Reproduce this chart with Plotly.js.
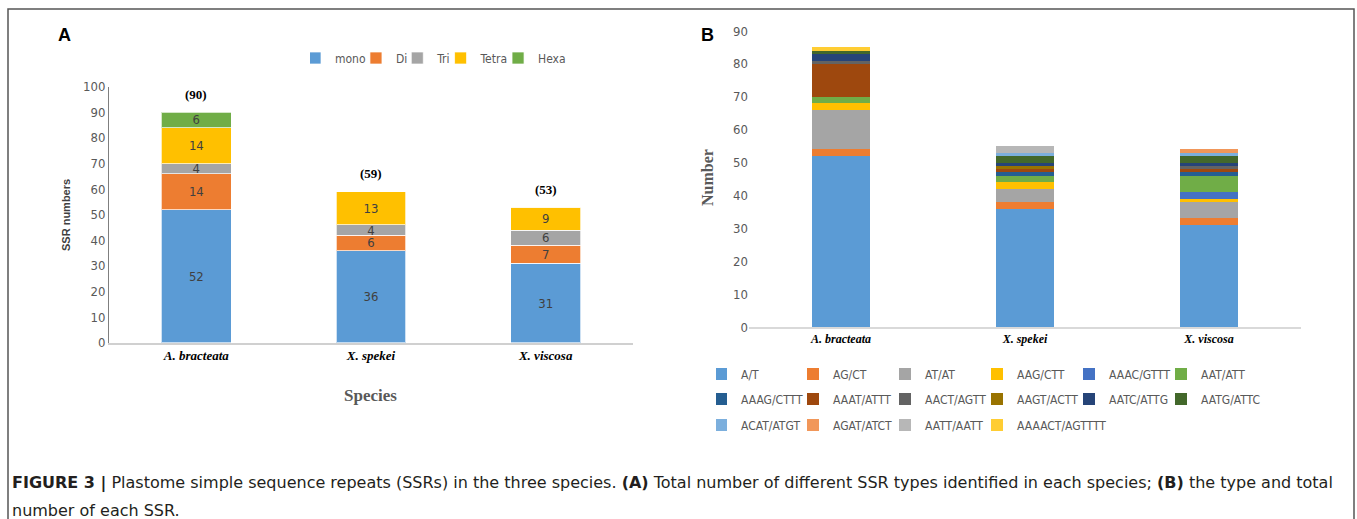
<!DOCTYPE html>
<html>
<head>
<meta charset="utf-8">
<script src="https://cdn.plot.ly/plotly-3.0.1.min.js"></script>
<style>html,body{margin:0;padding:0;background:#fff;}#chart{width:1357px;height:519px;}</style>
</head>
<body>
<div id="chart"></div>
<script>
// ---------- Panel A data ----------
const speciesA = ['A. bracteata', 'X. spekei', 'X. viscosa'];
const typeNamesA = ['mono', 'Di', 'Tri', 'Tetra', 'Hexa'];
const mono  = [52, 36, 31];
const di    = [14, 6, 7];
const tri   = [4, 4, 6];
const tetra = [14, 13, 9];
const hexa  = [6, 0, 0];
const totalsA = [90, 59, 53];
const colorsA = ['#5B9BD5', '#ED7D31', '#A5A5A5', '#FFC000', '#70AD47'];

// ---------- Panel B data ----------
const speciesB = ['A. bracteata', 'X. spekei', 'X. viscosa'];
const motifNames = ['A/T','AG/CT','AT/AT','AAG/CTT','AAAC/GTTT','AAT/ATT',
  'AAAG/CTTT','AAAT/ATTT','AACT/AGTT','AAGT/ACTT','AATC/ATTG','AATG/ATTC',
  'ACAT/ATGT','AGAT/ATCT','AATT/AATT','AAAACT/AGTTTT'];
const motifA_T      = [52, 36, 31];
const motifAG_CT    = [2, 2, 2];
const motifAT_AT    = [12, 4, 5];
const motifAAG_CTT  = [2, 2, 1];
const motifAAAC     = [0, 0, 2];
const motifAAT_ATT  = [2, 2, 5];
const motifAAAG     = [0, 1, 1];
const motifAAAT     = [10, 1, 1];
const motifAACT     = [1, 0, 1];
const motifAAGT     = [0, 1, 0];
const motifAATC     = [2, 1, 1];
const motifAATG     = [1, 2, 2];
const motifACAT     = [0, 1, 1];
const motifAGAT     = [0, 0, 1];
const motifAATT     = [0, 2, 0];
const motifAAAACT   = [1, 0, 0];
const colorsB = ['#5B9BD5','#ED7D31','#A5A5A5','#FFC000','#4472C4','#70AD47',
  '#255E91','#9E480E','#636363','#997300','#264478','#43682B',
  '#7CAFDD','#F1975A','#B7B7B7','#FFCD33'];

const seriesA = [mono, di, tri, tetra, hexa];
const seriesB = [motifA_T, motifAG_CT, motifAT_AT, motifAAG_CTT, motifAAAC, motifAAT_ATT,
  motifAAAG, motifAAAT, motifAACT, motifAAGT, motifAATC, motifAATG,
  motifACAT, motifAGAT, motifAATT, motifAAAACT];

const NARROW = '"DejaVu Sans Condensed", "Liberation Sans Narrow", "Arial Narrow", sans-serif';
const SANS = '"Liberation Sans", Arial, Helvetica, sans-serif';
const CAP = '"DejaVu Sans", "Liberation Sans", Arial, sans-serif';
const SERIF = '"Liberation Serif", "Times New Roman", serif';
const W = 1357, H = 519;
const px = v => v / W;
const py = v => 1 - v / H;

const traces = [];
seriesA.forEach((vals, i) => {
  traces.push({
    type: 'bar', name: typeNamesA[i], x: speciesA, y: vals,
    xaxis: 'x', yaxis: 'y', width: 0.4,
    marker: { color: colorsA[i], line: { color: 'rgba(255,255,255,0.7)', width: 1 } },
    text: vals.map(v => v ? String(v) : ''),
    textposition: 'inside', insidetextanchor: 'middle', constraintext: 'none', textangle: 0,
    textfont: { family: NARROW, size: 13, color: '#404040' },
    legend: 'legend', hoverinfo: 'x+y+name'
  });
});
seriesB.forEach((vals, i) => {
  const tr = {
    type: 'bar', name: motifNames[i], x: speciesB, y: vals,
    xaxis: 'x2', yaxis: 'y2', width: 0.315,
    marker: { color: colorsB[i], line: { width: 0 } },
    legend: 'legend' + (2 + Math.floor(i / 6)), hoverinfo: 'x+y+name'
  };
  if (i === seriesB.length - 1) tr.legendwidth = 110;
  traces.push(tr);
});

const legFont = { family: NARROW, size: 12, color: '#595959' };
const legBase = { orientation: 'h', xanchor: 'left', yanchor: 'middle', bgcolor: 'rgba(0,0,0,0)',
  borderwidth: 0, font: legFont, traceorder: 'normal', indentation: -15, itemclick: false, itemdoubleclick: false };

const mid = { xanchor: 'center', yanchor: 'middle', showarrow: false };
const annotations = [];
totalsA.forEach((t, i) => {
  annotations.push(Object.assign({ xref: 'x', yref: 'y', x: speciesA[i], y: t, yshift: 18,
    text: '<b>(' + t + ')</b>', font: { family: SERIF, size: 13, color: '#000' } }, mid));
});
annotations.push(
  Object.assign({ xref: 'paper', yref: 'paper', x: px(64), y: py(35), text: '<b>A</b>',
    font: { family: SANS, size: 18, color: '#000' } }, mid),
  Object.assign({ xref: 'paper', yref: 'paper', x: px(707), y: py(35), text: '<b>B</b>',
    font: { family: SANS, size: 18, color: '#000' } }, mid),
  Object.assign({ xref: 'paper', yref: 'paper', x: px(66), y: py(215), textangle: -90,
    text: '<b>SSR numbers</b>', font: { family: SANS, size: 11, color: '#404040' } }, mid),
  Object.assign({ xref: 'paper', yref: 'paper', x: px(370), y: py(395),
    text: '<b>Species</b>', font: { family: SERIF, size: 17, color: '#595959' } }, mid),
  Object.assign({ xref: 'paper', yref: 'paper', x: px(707), y: py(178), textangle: -90,
    text: '<b>Number</b>', font: { family: SERIF, size: 16, color: '#595959' } }, mid),
  { xref: 'paper', yref: 'paper', x: px(10), y: py(483), xanchor: 'left', yanchor: 'middle', showarrow: false,
    text: '<b>FIGURE 3 |</b> Plastome simple sequence repeats (SSRs) in the three species. <b>(A)</b> Total number of different SSR types identified in each species; <b>(B)</b> the type and total',
    font: { family: CAP, size: 16, color: '#231f20' } },
  { xref: 'paper', yref: 'paper', x: px(10), y: py(510), xanchor: 'left', yanchor: 'middle', showarrow: false,
    text: 'number of each SSR.', font: { family: CAP, size: 16, color: '#231f20' } }
);

const layout = {
  width: W, height: H, margin: { l: 0, r: 0, t: 0, b: 0 },
  paper_bgcolor: '#fff', plot_bgcolor: 'rgba(0,0,0,0)',
  barmode: 'stack', showlegend: true, hovermode: 'closest',
  xaxis: { domain: [px(109), px(633)], type: 'category', showline: true, linecolor: '#d0d0d0', linewidth: 1.5,
    ticks: '', showgrid: false, zeroline: false, fixedrange: true,
    tickfont: { family: SERIF, size: 13, color: '#000', weight: 'bold', style: 'italic' } },
  yaxis: { domain: [1 - 342.7 / H, 1 - 86.7 / H], range: [0, 100], dtick: 10, showline: true, linecolor: '#7f7f7f',
    linewidth: 1, ticks: '', showgrid: false, zeroline: false, fixedrange: true,
    tickfont: { family: NARROW, size: 13, color: '#595959' } },
  xaxis2: { domain: [px(749), px(1301)], anchor: 'y2', type: 'category', showline: true, linecolor: '#d9d9d9',
    linewidth: 1.5, ticks: '', showgrid: false, zeroline: false, fixedrange: true,
    tickfont: { family: SERIF, size: 12, color: '#000', weight: 'bold', style: 'italic' } },
  yaxis2: { domain: [1 - 327 / H, 1 - 31 / H], anchor: 'x2', range: [0, 90], dtick: 10, showline: false,
    ticks: '', showgrid: false, zeroline: false, fixedrange: true,
    tickfont: { family: NARROW, size: 13, color: '#595959' } },
  legend: Object.assign({}, legBase, { x: px(310), y: py(58) }),
  legend2: Object.assign({}, legBase, { x: px(716), y: py(374), entrywidth: 62 }),
  legend3: Object.assign({}, legBase, { x: px(716), y: py(399), entrywidth: 62 }),
  legend4: Object.assign({}, legBase, { x: px(716), y: py(425), entrywidth: 62 }),
  annotations: annotations,
  shapes: [
    { type: 'rect', xref: 'paper', yref: 'paper', x0: px(8), x1: px(1354), y0: -0.2, y1: py(9),
      line: { color: '#555', width: 1.5 }, fillcolor: 'rgba(0,0,0,0)', layer: 'below' }
  ]
};

Plotly.newPlot('chart', traces, layout, { displayModeBar: false, responsive: false });
</script>
</body>
</html>
